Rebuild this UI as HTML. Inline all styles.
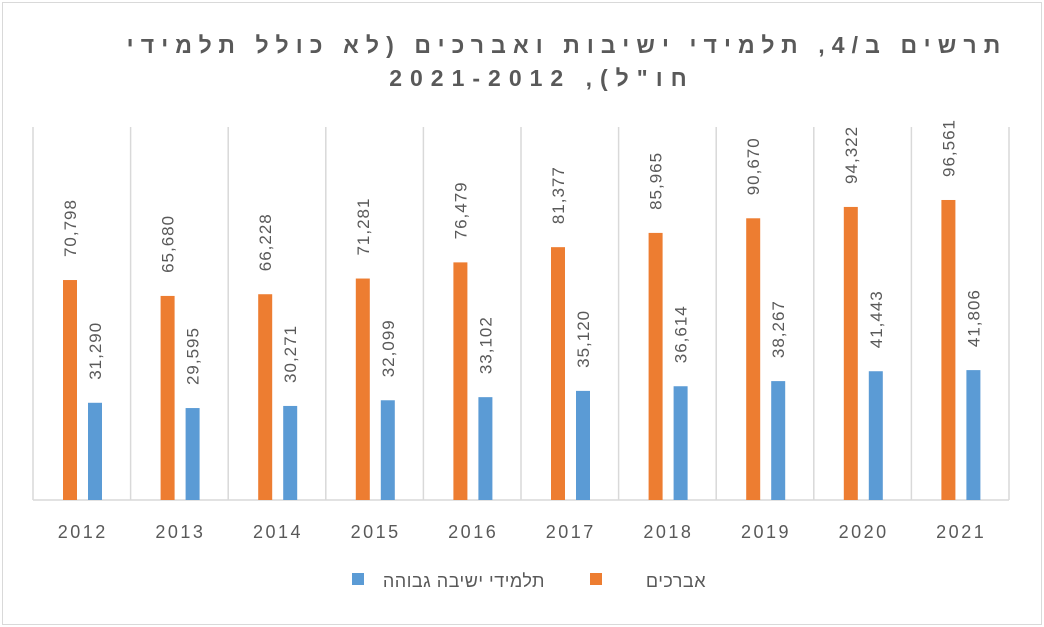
<!DOCTYPE html><html><head><meta charset="utf-8"><style>
body{margin:0;background:#fff;}
svg text{font-family:"Liberation Sans",sans-serif;fill:#595959;}
.t{position:absolute;left:0;width:1044px;text-align:center;font-family:"Liberation Sans",sans-serif;color:#595959;font-weight:bold;font-size:23px;letter-spacing:7.1px;direction:rtl;white-space:nowrap;line-height:33px;}
.lg{position:absolute;top:570px;font-family:"Liberation Sans",sans-serif;color:#595959;font-size:18px;direction:rtl;white-space:nowrap;line-height:22px;letter-spacing:0.5px;}
</style></head><body>
<svg width="1044" height="627" xmlns="http://www.w3.org/2000/svg" style="position:absolute;left:0;top:0">
<rect x="2.5" y="2.5" width="1039" height="622" fill="#fff" stroke="#d9d9d9"/>
<g id="g"></g>
<rect x="352" y="573" width="12" height="12" fill="#5b9bd5"/>
<rect x="590" y="573" width="12" height="12" fill="#ed7d31"/>
</svg>
<div class="t" style="top:29px;left:45px">תרשים ב/4, תלמידי ישיבות ואברכים (לא כולל תלמידי</div>
<div class="t" style="top:62px;left:20px;letter-spacing:8px">חו"ל), 2021-2012</div>
<div class="lg" style="left:368px;width:177px;text-align:right">תלמידי ישיבה גבוהה</div>
<div class="lg" style="left:606px;width:100px;text-align:right">אברכים</div>
<script>
var o=[70798,65680,66228,71281,76479,81377,85965,90670,94322,96561],b=[31290,29595,30271,32099,33102,35120,36614,38267,41443,41806];
var s='',L=33,W=97.6,B=500,k=0.003107;
s+='<line x1="'+L+'" y1="'+B+'" x2="'+(L+10*W)+'" y2="'+B+'" stroke="#d9d9d9" stroke-width="1.5"/>';
for(var i=0;i<=10;i++){var x=L+i*W;s+='<line x1="'+x+'" y1="127" x2="'+x+'" y2="'+B+'" stroke="#d9d9d9" stroke-width="1.5"/>';}
function f(v){return v.toLocaleString('en-US');}
for(var i=0;i<10;i++){var x=L+i*W;
var ho=o[i]*k,hb=b[i]*k;
s+='<rect x="'+(x+30)+'" y="'+(B-ho)+'" width="14" height="'+ho+'" fill="#ed7d31"/>';
s+='<rect x="'+(x+55)+'" y="'+(B-hb)+'" width="14" height="'+hb+'" fill="#5b9bd5"/>';
var yo=B-ho-23,yb=B-hb-23;
s+='<text transform="translate('+(x+43)+','+yo+') rotate(-90)" font-size="17" letter-spacing="1">'+f(o[i])+'</text>';
s+='<text transform="translate('+(x+68)+','+yb+') rotate(-90)" font-size="17" letter-spacing="1">'+f(b[i])+'</text>';
s+='<text x="'+(x+W/2+1)+'" y="538" text-anchor="middle" font-size="18" letter-spacing="2.5">'+(2012+i)+'</text>';}
document.getElementById('g').innerHTML=s;
</script>
</body></html>
